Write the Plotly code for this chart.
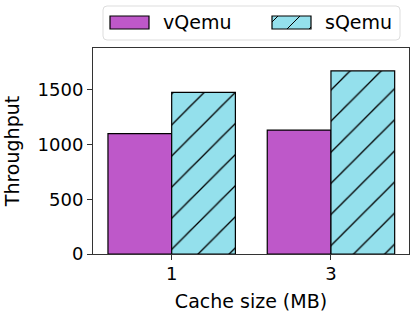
import plotly.graph_objects as go

categories = ["1", "3"]
series_names = ["vQemu", "sQemu"]
vqemu = [1100, 1133]
sqemu = [1478, 1673]

purple, cyan = "#BE58C9", "#94E0EC"

fig = go.Figure()
fig.add_trace(go.Bar(
    name=series_names[0], x=categories, y=vqemu, showlegend=False,
    marker=dict(color=purple, line=dict(color="black", width=1.2)),
))
fig.add_trace(go.Bar(
    name=series_names[1], x=categories, y=sqemu, showlegend=False,
    marker=dict(color=cyan, line=dict(color="black", width=1.2),
                pattern=dict(shape="/", size=22, solidity=0.06, fgcolor="black",
                             fgopacity=1, bgcolor=cyan, fillmode="overlay")),
))

font = dict(family="DejaVu Sans", size=18, color="black")
font_big = dict(family="DejaVu Sans", size=19, color="black")
W, H = 416, 318
ml, mr, mt, mb = 93, 7, 48, 64
pw, ph = W - ml - mr, H - mt - mb

def px(x):
    return (x - ml) / pw

def py(y):
    return (H - mb - y) / ph

shapes = []
# rounded legend frame
x0, x1, y0, y1 = px(103), px(400), py(40), py(6)
rx, ry = 4 / pw, 4 / ph
path = (f"M{x0+rx},{y0} L{x1-rx},{y0} Q{x1},{y0} {x1},{y0+ry} "
        f"L{x1},{y1-ry} Q{x1},{y1} {x1-rx},{y1} L{x0+rx},{y1} "
        f"Q{x0},{y1} {x0},{y1-ry} L{x0},{y0+ry} Q{x0},{y0} {x0+rx},{y0} Z")
shapes.append(dict(type="path", xref="paper", yref="paper", path=path,
                   line=dict(color="#DDDDDD", width=1), fillcolor="white", layer="below"))

# legend swatches (custom, matplotlib-like wide patches)
sw_top, sw_bot = 16, 29
swatches = [(110, 149, purple, False), (272, 311, cyan, True)]
for (sx0, sx1, col, hatch) in swatches:
    shapes.append(dict(type="rect", xref="paper", yref="paper",
                       x0=px(sx0), x1=px(sx1), y0=py(sw_bot), y1=py(sw_top),
                       fillcolor=col, line=dict(color="black", width=1.2)))
    if hatch:
        hgt = sw_bot - sw_top
        xb = sx0 - 7
        while xb < sx1:
            t0 = max(0, sx0 - xb)
            t1 = min(hgt, sx1 - xb)
            if t1 > t0:
                shapes.append(dict(type="line", xref="paper", yref="paper",
                                   x0=px(xb + t0), y0=py(sw_bot - t0),
                                   x1=px(xb + t1), y1=py(sw_bot - t1),
                                   line=dict(color="black", width=1)))
            xb += 22

annotations = [
    dict(text=series_names[0], x=px(161), y=py(22), xref="paper", yref="paper",
         xanchor="left", yanchor="middle", showarrow=False, font=font_big),
    dict(text=series_names[1], x=px(323), y=py(22), xref="paper", yref="paper",
         xanchor="left", yanchor="middle", showarrow=False, font=font_big),
]

fig.update_layout(
    width=W, height=H,
    margin=dict(l=ml, r=mr, t=mt, b=mb, autoexpand=False),
    paper_bgcolor="white", plot_bgcolor="white",
    barmode="group", bargap=0.2, bargroupgap=0,
    font=font,
    showlegend=False,
    shapes=shapes,
    annotations=annotations,
    xaxis=dict(type="category", range=[-0.494, 1.49], showline=True, mirror=True,
               linecolor="#333333", linewidth=1, ticks="outside", ticklen=5,
               tickcolor="#333333", ticklabelstandoff=-2,
               title=dict(text="Cache size (MB)", standoff=12, font=font_big),
               showgrid=False),
    yaxis=dict(range=[0, 1883], showline=True, mirror=True, linecolor="#333333",
               linewidth=1, ticks="outside", ticklen=5, tickcolor="#333333",
               tickvals=[0, 500, 1000, 1500],
               title=dict(text="Throughput", standoff=12, font=font_big),
               showgrid=False, zeroline=False),
)
fig.write_html("out.html", config={"displayModeBar": False},
               post_script="document.body.style.margin='0';document.body.style.padding='0';")
